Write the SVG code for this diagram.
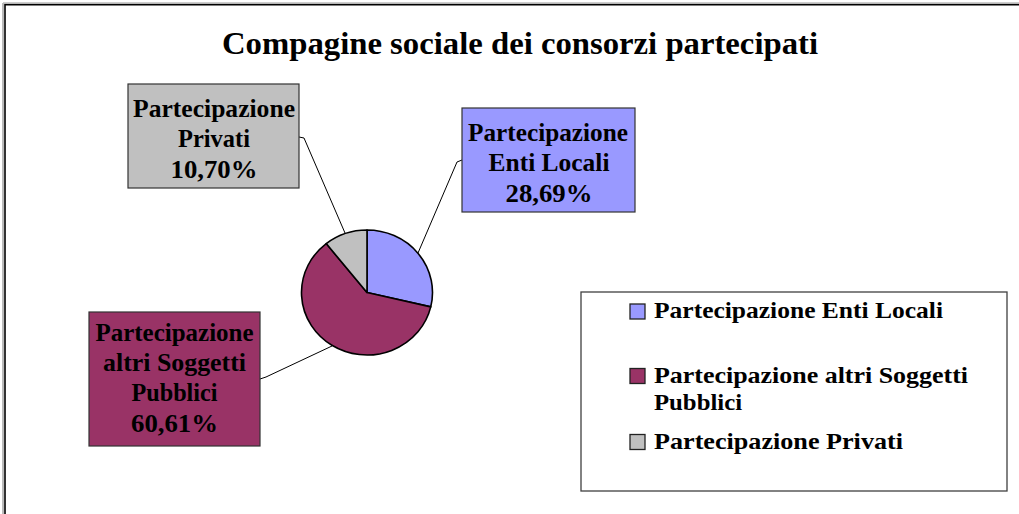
<svg xmlns="http://www.w3.org/2000/svg" width="1019" height="514" viewBox="0 0 1019 514">
<defs>
<style>
text{font-family:"Liberation Serif","Times New Roman",serif;font-weight:bold;fill:#000}
.t{font-size:32px;text-anchor:middle}
.lbl{font-size:26px;text-anchor:middle}
.leg{font-size:24px}
.box{stroke:#333;stroke-width:1.2}
.slice{stroke:#000;stroke-width:1.6;stroke-linejoin:round}
.lead{fill:none;stroke:#000;stroke-width:1}
.sw{stroke:#222;stroke-width:1.3}
</style>
</defs>
<rect x="0" y="0" width="1019" height="514" fill="#fff"/>
<line x1="3" y1="3" x2="3" y2="514" stroke="#bbb" stroke-width="2"/>
<line x1="3" y1="3" x2="1019" y2="3" stroke="#bbb" stroke-width="1.5"/>
<rect x="5" y="4.7" width="1030" height="530" fill="none" stroke="#000" stroke-width="1.6"/>
<text class="t" x="520" y="54" textLength="596" lengthAdjust="spacingAndGlyphs">Compagine sociale dei consorzi partecipati</text>
<g id="connectors">
<polyline class="lead" points="299,137 304,138 345,233"/>
<polyline class="lead" points="462,160 457,162 418,253"/>
<polyline class="lead" points="260,379 266,377 332,346"/>
</g>
<g id="pie">
<path class="slice" fill="#9999FF" d="M367,292.5 L367,230 A65.5,62.5 0 0,1 430.75,306.86 Z"/>
<path class="slice" fill="#993366" d="M367,292.5 L430.75,306.86 A65.5,62.5 0 1,1 326.23,243.59 Z"/>
<path class="slice" fill="#C0C0C0" d="M367,292.5 L326.23,243.59 A65.5,62.5 0 0,1 367,230 Z"/>
</g>
<g id="label-privati">
<rect class="box" x="128" y="84" width="171" height="104" fill="#C0C0C0"/>
<text class="lbl" x="214" y="117" textLength="162" lengthAdjust="spacingAndGlyphs">Partecipazione</text>
<text class="lbl" x="214" y="147" textLength="72" lengthAdjust="spacingAndGlyphs">Privati</text>
<text class="lbl" x="214" y="178" textLength="87" lengthAdjust="spacingAndGlyphs">10,70%</text>
</g>
<g id="label-enti">
<rect class="box" x="462" y="108" width="173" height="104" fill="#9999FF"/>
<text class="lbl" x="548" y="141" textLength="160" lengthAdjust="spacingAndGlyphs">Partecipazione</text>
<text class="lbl" x="549" y="171" textLength="121" lengthAdjust="spacingAndGlyphs">Enti Locali</text>
<text class="lbl" x="549" y="202" textLength="87" lengthAdjust="spacingAndGlyphs">28,69%</text>
</g>
<g id="label-altri">
<rect class="box" x="89" y="312" width="171" height="134" fill="#993366"/>
<text class="lbl" x="174.5" y="341" textLength="158" lengthAdjust="spacingAndGlyphs">Partecipazione</text>
<text class="lbl" x="174.5" y="371" textLength="143" lengthAdjust="spacingAndGlyphs">altri Soggetti</text>
<text class="lbl" x="174.5" y="401" textLength="86" lengthAdjust="spacingAndGlyphs">Pubblici</text>
<text class="lbl" x="174.5" y="432" textLength="87" lengthAdjust="spacingAndGlyphs">60,61%</text>
</g>
<g id="legend">
<rect x="581" y="292" width="426" height="199" fill="#fff" stroke="#404040" stroke-width="1.3"/>
<rect class="sw" x="630" y="304" width="15" height="15" fill="#9999FF"/>
<text class="leg" x="654" y="318" textLength="289" lengthAdjust="spacingAndGlyphs">Partecipazione Enti Locali</text>
<rect class="sw" x="630" y="368.5" width="15" height="15" fill="#993366"/>
<text class="leg" x="654" y="383" textLength="314" lengthAdjust="spacingAndGlyphs">Partecipazione altri Soggetti</text>
<text class="leg" x="654" y="410" textLength="88" lengthAdjust="spacingAndGlyphs">Pubblici</text>
<rect class="sw" x="630" y="434.5" width="15" height="15" fill="#C0C0C0"/>
<text class="leg" x="654" y="449" textLength="249" lengthAdjust="spacingAndGlyphs">Partecipazione  Privati</text>
</g>
</svg>
